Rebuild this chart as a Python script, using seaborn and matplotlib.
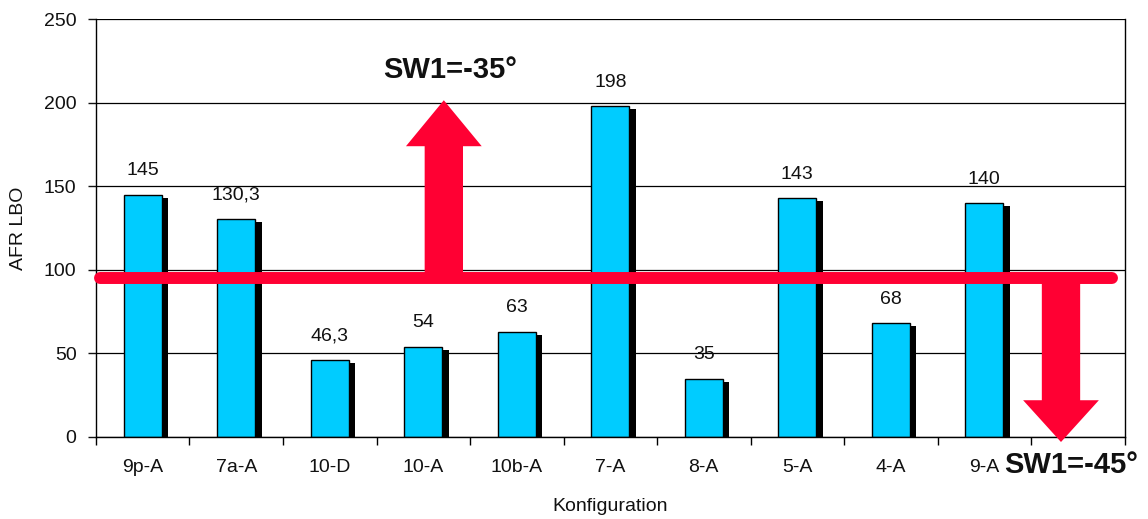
import matplotlib
matplotlib.use("Agg")
import matplotlib.pyplot as plt
import matplotlib.patheffects as pe
from matplotlib.patches import FancyArrow
import seaborn as sns
import pandas as pd

# Data
configs = ["9p-A", "7a-A", "10-D", "10-A", "10b-A", "7-A", "8-A", "5-A", "4-A", "9-A"]
afr_lbo = [145, 130.3, 46.3, 54, 63, 198, 35, 143, 68, 140]
value_labels = ["145", "130,3", "46,3", "54", "63", "198", "35", "143", "68", "140"]
threshold = 95
y_ticks = [0, 50, 100, 150, 200, 250]

sns.set_theme(style="white")
plt.rcParams["font.family"] = ["Liberation Sans", "DejaVu Sans"]

fig = plt.figure(figsize=(11.48, 5.19), dpi=100)
ax = fig.add_axes([0.0836, 0.158, 0.896, 0.805])

df = pd.DataFrame({"Konfiguration": configs, "AFR LBO": afr_lbo})
sns.barplot(data=df, x="Konfiguration", y="AFR LBO", color="#00CCFF",
            saturation=1, width=0.41, edgecolor="black", linewidth=1.0, ax=ax)

# drop shadow behind each bar
for patch in ax.patches:
    patch.set_path_effects([pe.SimplePatchShadow(offset=(4.5, -2.2), shadow_rgbFace="black", alpha=1.0),
                            pe.Normal()])

ax.bar_label(ax.containers[0], labels=value_labels, padding=11, fontsize=14, color="#111111")

# one extra empty slot on the right
ax.set_xlim(-0.5, 10.5)
ax.set_ylim(0, 250)
ax.set_yticks(y_ticks)
ax.yaxis.grid(True, color="black", linewidth=0.9)
ax.set_axisbelow(True)

ax.set_xticks(range(len(configs)))
ax.set_xticklabels(configs)
ax.set_xticks([i - 0.5 for i in range(12)], minor=True)
ax.tick_params(axis="x", which="major", length=0, pad=16, labelsize=14, colors="#111111")
ax.tick_params(axis="x", which="minor", length=6, width=1, direction="out", color="black", bottom=True)
ax.tick_params(axis="y", length=6, width=1, direction="out", left=True, pad=8, labelsize=14, colors="#111111")

for s in ax.spines.values():
    s.set_color("black")
    s.set_linewidth(1.0)
ax.spines["top"].set_visible(False)

ax.set_xlabel("Konfiguration", fontsize=14, labelpad=16, color="#111111")
ax.set_ylabel("AFR LBO", fontsize=14, color="#111111")
ax.yaxis.set_label_coords(-0.067, 0.5)

red = "#FF0033"
# threshold line
ax.plot([-0.46, 10.37], [threshold, threshold], color=red, linewidth=8.6,
        solid_capstyle="round", zorder=5, clip_on=False)

# arrows
up = FancyArrow(3.22, threshold, 0, 201.5 - threshold, width=0.41, head_width=0.81,
                head_length=27.5, length_includes_head=True, color=red, zorder=6,
                linewidth=0)
down = FancyArrow(9.82, threshold, 0, -3 - threshold, width=0.41, head_width=0.81,
                  head_length=25, length_includes_head=True, color=red, zorder=6,
                  linewidth=0, clip_on=False)
ax.add_patch(up)
ax.add_patch(down)

ax.text(3.29, 219.5, "SW1=-35°", ha="center", va="center", fontsize=21,
        fontweight="bold", color="#111111")
ax.text(9.93, -16.5, "SW1=-45°", ha="center", va="center", fontsize=21,
        fontweight="bold", color="#111111", clip_on=False)

fig.savefig("out.png", dpi=100, facecolor="white")
